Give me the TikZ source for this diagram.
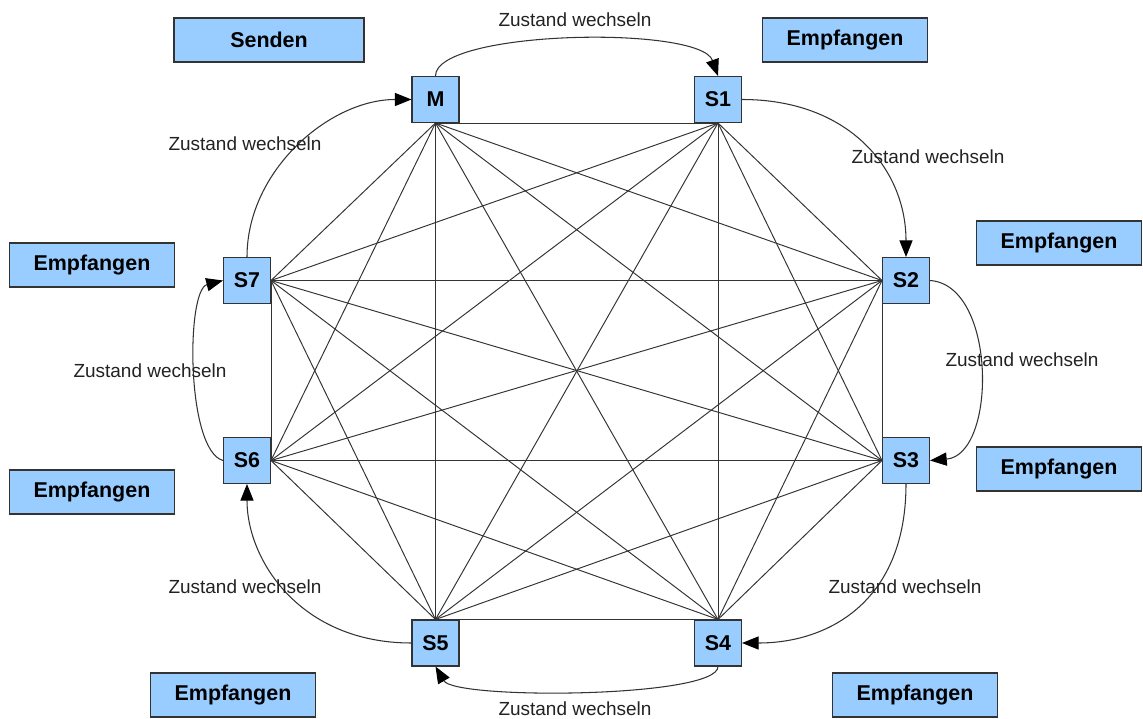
\documentclass[tikz,border=0pt]{standalone}
\usepackage{fontspec}
\setmainfont{Liberation Sans}
\usetikzlibrary{arrows.meta}
\definecolor{boxblue}{HTML}{99CCFF}
\definecolor{edgegray}{HTML}{333333}
\definecolor{txtgray}{HTML}{222222}
\begin{document}
\begin{tikzpicture}[x=0.02cm,y=-0.02cm,
  statebox/.style={draw=edgegray,fill=boxblue,line width=0.6pt,minimum width=0.94cm,minimum height=0.92cm,inner sep=0pt,font=\fontsize{12.2pt}{14pt}\selectfont\bfseries},
  rolebox/.style={draw=edgegray,fill=boxblue,line width=0.6pt,minimum width=3.3cm,minimum height=0.88cm,inner sep=0pt,font=\fontsize{12.2pt}{14pt}\selectfont\bfseries},
  link/.style={draw=edgegray,line width=0.55pt},
  trans/.style={draw=edgegray,line width=0.6pt,-{Triangle[length=9.5pt,width=7.5pt,color=black]}},
  translabel/.style={text=txtgray,inner sep=1pt,font=\fontsize{10.8pt}{12pt}\selectfont}]
\useasboundingbox (0,0) rectangle (1143,719);
% role boxes
\node[rolebox,minimum width=3.8cm] (rsend) at (269,40) {Senden};
\node[rolebox] (r1) at (845,40) {Empfangen};
\node[rolebox] (r2) at (1059,243) {Empfangen};
\node[rolebox] (r3) at (1059,469) {Empfangen};
\node[rolebox] (r4) at (915,695) {Empfangen};
\node[rolebox] (r5) at (233,695) {Empfangen};
\node[rolebox] (r6) at (92,492) {Empfangen};
\node[rolebox] (r7) at (92,265) {Empfangen};
% state boxes
\node[statebox] (M) at (435.5,99.5) {M};
\node[statebox] (S1) at (718,99.5) {S1};
\node[statebox] (S2) at (906,280.5) {S2};
\node[statebox] (S3) at (906,460.5) {S3};
\node[statebox] (S4) at (718,643) {S4};
\node[statebox] (S5) at (435.5,643) {S5};
\node[statebox] (S6) at (247,460.5) {S6};
\node[statebox] (S7) at (247,280.5) {S7};
% connection points
\coordinate (pM) at (M.south);
\coordinate (p1) at (S1.south);
\coordinate (p2) at (S2.west);
\coordinate (p3) at (S3.west);
\coordinate (p4) at (S4.north);
\coordinate (p5) at (S5.north);
\coordinate (p6) at (S6.east);
\coordinate (p7) at (S7.east);
% complete graph
\foreach \a/\b in {pM/p1,pM/p2,pM/p3,pM/p4,pM/p5,pM/p6,pM/p7,
                   p1/p2,p1/p3,p1/p4,p1/p5,p1/p6,p1/p7,
                   p2/p3,p2/p4,p2/p5,p2/p6,p2/p7,
                   p3/p4,p3/p5,p3/p6,p3/p7,
                   p4/p5,p4/p6,p4/p7,
                   p5/p6,p5/p7,
                   p6/p7}
  \draw[link] (\a) -- (\b);
% state transitions
\draw[trans] (M.north) .. controls (435.5,30) and (700,25) .. (S1.north);
\draw[trans] (S1.east) .. controls (850,99.5) and (906,170) .. (S2.north);
\draw[trans] (S2.east) .. controls (997,285) and (997,455) .. (S3.east);
\draw[trans] (S3.south) .. controls (906,600) and (830,643) .. (S4.east);
\draw[trans] (S4.south) .. controls (718,698) and (455,700) .. (S5.south);
\draw[trans] (S5.west) .. controls (300,643) and (247,560) .. (S6.south);
\draw[trans] (S6.west) .. controls (186,450) and (186,290) .. (S7.west);
\draw[trans] (S7.north) .. controls (247,170) and (330,99.5) .. (M.west);
% labels
\node[translabel] (l1) at (575,20) {Zustand wechseln};
\node[translabel] (l2) at (928,157) {Zustand wechseln};
\node[translabel] (l3) at (1022,360) {Zustand wechseln};
\node[translabel] (l4) at (905,587) {Zustand wechseln};
\node[translabel] (l5) at (575,709) {Zustand wechseln};
\node[translabel] (l6) at (245,587) {Zustand wechseln};
\node[translabel] (l7) at (150,371) {Zustand wechseln};
\node[translabel] (l8) at (245,144) {Zustand wechseln};
\end{tikzpicture}
\end{document}
